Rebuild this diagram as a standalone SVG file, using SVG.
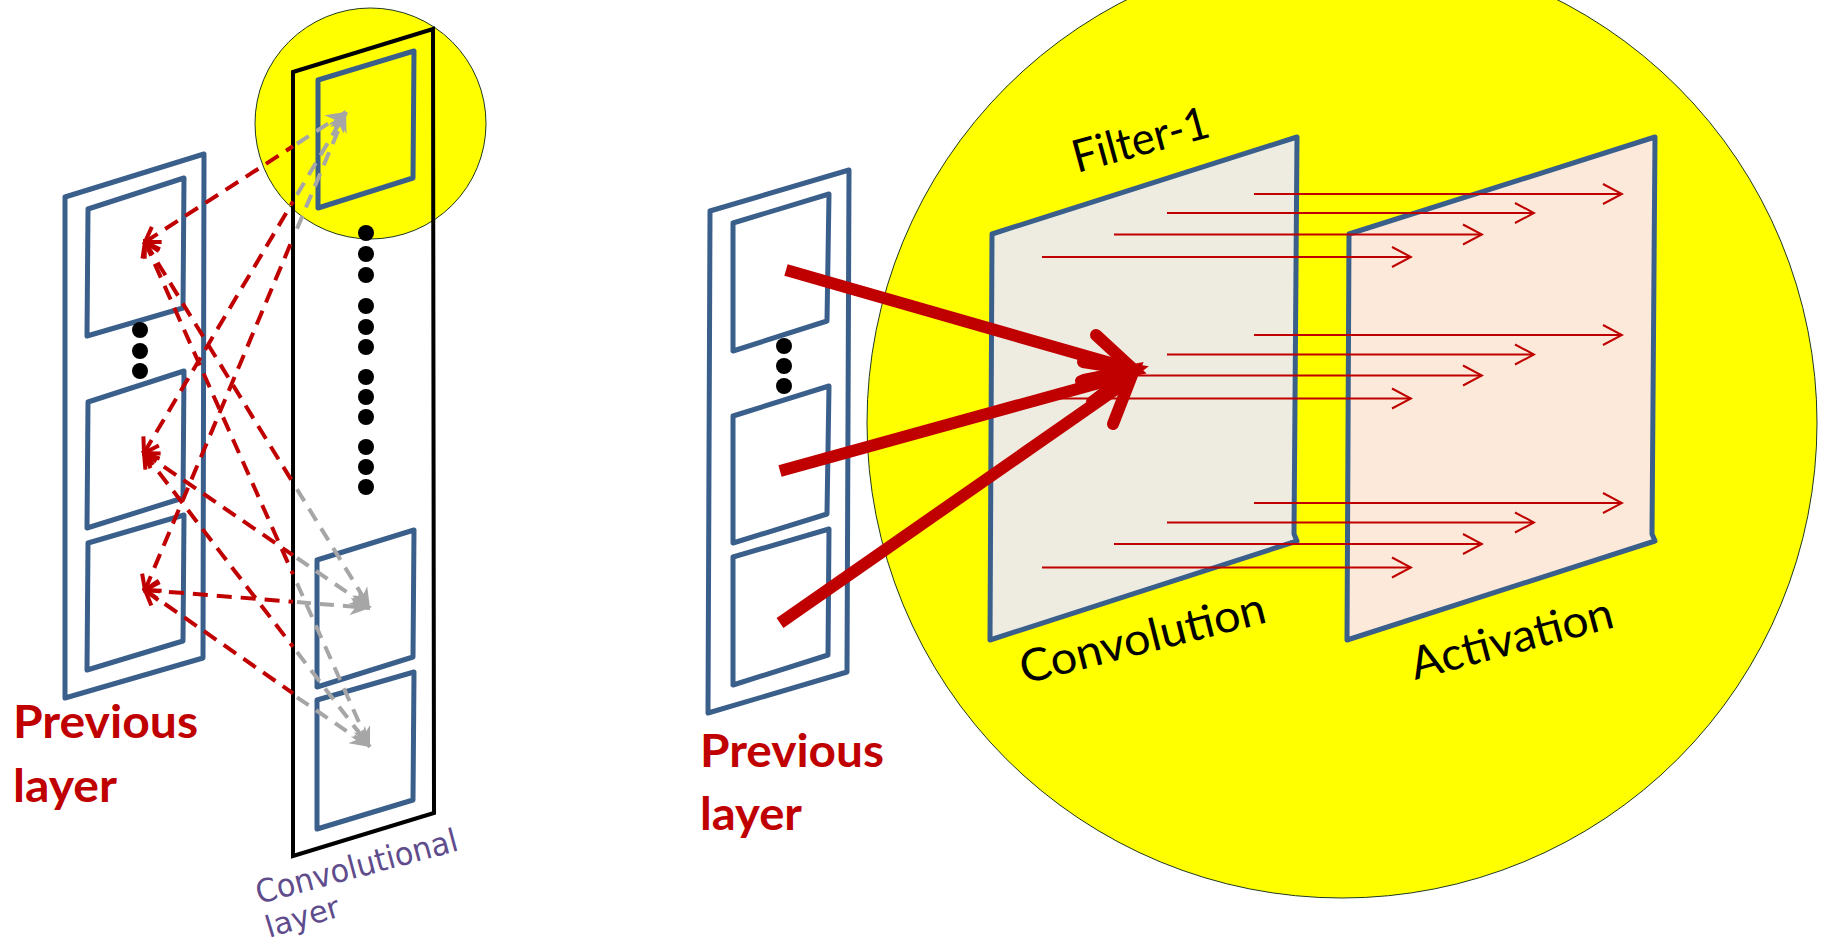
<svg xmlns="http://www.w3.org/2000/svg" width="1825" height="950" viewBox="0 0 1825 950">
<style>
.bg{fill:#ffffff}
.blue{fill:none;stroke:#3A5F8B;stroke-width:5;stroke-linejoin:round}
.blk{fill:none;stroke:#000;stroke-width:4;stroke-linejoin:miter}
.dot{fill:#000}
.yel{fill:#FFFF00;stroke:#1E3A1E;stroke-width:1}
.rdash{fill:none;stroke:#C00000;stroke-width:4;stroke-dasharray:15 9;marker-start:url(#redV)}
.gdash{fill:none;stroke:#A6A6A6;stroke-width:4;stroke-dasharray:14 9;marker-end:url(#grayTri)}
.thin{fill:none;stroke:#C00000;stroke-width:2;marker-end:url(#thinV)}
.thick{fill:none;stroke:#C00000;stroke-width:12;stroke-linecap:butt}
.head{fill:none;stroke:#C00000;stroke-width:12;stroke-linecap:round;stroke-linejoin:miter;stroke-miterlimit:6}
.lbl{font-family:Lato,"Liberation Sans",sans-serif;font-size:45px;fill:#000}
.prev{font-family:Lato,"Liberation Sans",sans-serif;font-size:46px;font-weight:bold;fill:#C00000}
.hand{font-family:"DejaVu Sans","Liberation Sans",sans-serif;font-size:32px;fill:#5F4C8C}
</style>
<defs>
<marker id="redV" markerUnits="userSpaceOnUse" viewBox="-18 -12 21 24" refX="0" refY="0" markerWidth="21" markerHeight="24" orient="auto-start-reverse">
<path d="M-14,-9 L0,0 L-14,9" fill="none" stroke="#C00000" stroke-width="4"/>
</marker>
<marker id="grayTri" markerUnits="userSpaceOnUse" viewBox="-22 -11 24 22" refX="0" refY="0" markerWidth="24" markerHeight="22" orient="auto">
<path d="M0,0 L-20,-9 L-14,0 L-20,9 Z" fill="#A6A6A6"/>
</marker>
<marker id="thinV" markerUnits="userSpaceOnUse" viewBox="-22 -12 24 24" refX="0" refY="0" markerWidth="24" markerHeight="24" orient="auto">
<path d="M-19,-10 L0,0 L-19,10" fill="none" stroke="#C00000" stroke-width="2"/>
</marker>
</defs>
<rect class="bg" x="0" y="0" width="1825" height="950"/>

<!-- LEFT PANEL -->
<circle id="highlight-small" class="yel" cx="370.5" cy="123.5" r="115.5"/>

<g id="left-previous-layer">
<polygon class="blue" points="65,197 204,154 203,658 65,698"/>
<polygon class="blue" points="88,209 184,178 183,308 87,336"/>
<polygon class="blue" points="88,402 184,371 183,498 87,528"/>
<polygon class="blue" points="88,543 184,515 183,641 87,670"/>
<circle class="dot" cx="140" cy="330" r="8"/>
<circle class="dot" cx="140" cy="351" r="8"/>
<circle class="dot" cx="140" cy="371" r="8"/>
</g>

<g id="convolutional-layer">
<polygon class="blk" points="293,72 433,29 434,813 293,856"/>
<polygon class="blue" points="318,80 414,51 413,178 318,208"/>
<polygon class="blue" points="317,560 414,530 413,657 317,687"/>
<polygon class="blue" points="317,700 414,672 413,800 317,829"/>
<circle class="dot" cx="366" cy="233" r="8"/>
<circle class="dot" cx="366" cy="254" r="8"/>
<circle class="dot" cx="366" cy="275" r="8"/>
<circle class="dot" cx="366" cy="306" r="8"/>
<circle class="dot" cx="366" cy="327" r="8"/>
<circle class="dot" cx="366" cy="347" r="8"/>
<circle class="dot" cx="366" cy="377" r="8"/>
<circle class="dot" cx="366" cy="397" r="8"/>
<circle class="dot" cx="366" cy="417" r="8"/>
<circle class="dot" cx="366" cy="447" r="8"/>
<circle class="dot" cx="366" cy="467" r="8"/>
<circle class="dot" cx="366" cy="487" r="8"/>
</g>

<g id="left-connectors">
<path class="rdash" d="M145,242 L293,146.3"/>
<path class="rdash" d="M145,242 L293,482.7"/>
<path class="rdash" d="M145,242 L293,574.2"/>
<path class="rdash" d="M144,453 L293,201.5"/>
<path class="rdash" d="M144,453 L293,555.2"/>
<path class="rdash" d="M144,453 L293,646.8"/>
<path class="rdash" d="M145,590 L293,238.1"/>
<path class="rdash" d="M145,590 L293,601.8"/>
<path class="rdash" d="M145,590 L293,693.3"/>
<path class="gdash" d="M297,143.7 L346,112"/>
<path class="gdash" d="M297,194.8 L346,112"/>
<path class="gdash" d="M297,228.8 L346,112"/>
<path class="gdash" d="M297,489.2 L370,608"/>
<path class="gdash" d="M297,558 L370,608"/>
<path class="gdash" d="M297,602.1 L370,608"/>
<path class="gdash" d="M297,583.2 L370,747"/>
<path class="gdash" d="M297,652 L370,747"/>
<path class="gdash" d="M297,697.3 L370,747"/>
</g>

<g id="left-labels">
<text class="prev" x="13" y="738" textLength="185" lengthAdjust="spacingAndGlyphs">Previous</text>
<text class="prev" x="13" y="802" textLength="104" lengthAdjust="spacingAndGlyphs">layer</text>
<text class="hand" transform="translate(259,904) rotate(-15)" textLength="208" lengthAdjust="spacingAndGlyphs">Convolutional</text>
<text class="hand" transform="translate(269,938) rotate(-17)" style="font-size:30px" textLength="76" lengthAdjust="spacingAndGlyphs">layer</text>
</g>

<!-- RIGHT PANEL -->
<circle id="highlight-large" class="yel" cx="1342" cy="423" r="475"/>

<g id="right-previous-layer">
<polygon class="blue" points="710,211 849,170 847,672 708,713"/>
<polygon class="blue" points="733,223 829,194 827,321 733,351"/>
<polygon class="blue" points="733,416 829,386 827,514 733,543"/>
<polygon class="blue" points="733,557 829,529 828,655 733,685"/>
<circle class="dot" cx="784" cy="346" r="8"/>
<circle class="dot" cx="784" cy="366" r="8"/>
<circle class="dot" cx="784" cy="386" r="8"/>
</g>

<g id="convolution-panel">
<polygon class="blue" style="fill:#EEECE1" points="992,234 1297,137 1294,534 1297,541 990,640"/>
</g>

<g id="activation-panel">
<polygon class="blue" style="fill:#FDE9D9" points="1349,234 1655,137 1652,534 1655,541 1347,640"/>
</g>

<g id="flow-connectors">
<path class="thin" d="M1254,194 H1622"/>
<path class="thin" d="M1167,213 H1534"/>
<path class="thin" d="M1114,234.5 H1482"/>
<path class="thin" d="M1042,257 H1411"/>
<path class="thin" d="M1254,335 H1622"/>
<path class="thin" d="M1167,354.5 H1534"/>
<path class="thin" d="M1114,375.5 H1482"/>
<path class="thin" d="M1042,398.5 H1411"/>
<path class="thin" d="M1254,503 H1622"/>
<path class="thin" d="M1167,522.5 H1534"/>
<path class="thin" d="M1114,544 H1482"/>
<path class="thin" d="M1042,567.5 H1411"/>
</g>

<g id="input-connectors">
<path class="thick" d="M786,270 L1128,368"/>
<path class="thick" d="M780,471 L1128,375"/>
<path class="thick" d="M780,623 L1126,382"/>
<path class="head" d="M1096,335 L1134,370 L1081,381"/>
<path class="head" d="M1083,362 L1134,370 L1092,402"/>
<path class="head" d="M1084,380 L1134,370 L1113,424"/>
</g>

<g id="right-labels">
<text class="lbl" transform="translate(1077,173) rotate(-15.2)" textLength="140" lengthAdjust="spacingAndGlyphs">Filter-1</text>
<text class="lbl" transform="translate(1024,684) rotate(-14.2)" textLength="252" lengthAdjust="spacingAndGlyphs">Convolution</text>
<text class="lbl" transform="translate(1415,680) rotate(-14.8)" textLength="208" lengthAdjust="spacingAndGlyphs">Activation</text>
<text class="prev" x="700" y="767" textLength="184" lengthAdjust="spacingAndGlyphs">Previous</text>
<text class="prev" x="700" y="830" textLength="102" lengthAdjust="spacingAndGlyphs">layer</text>
</g>
</svg>
